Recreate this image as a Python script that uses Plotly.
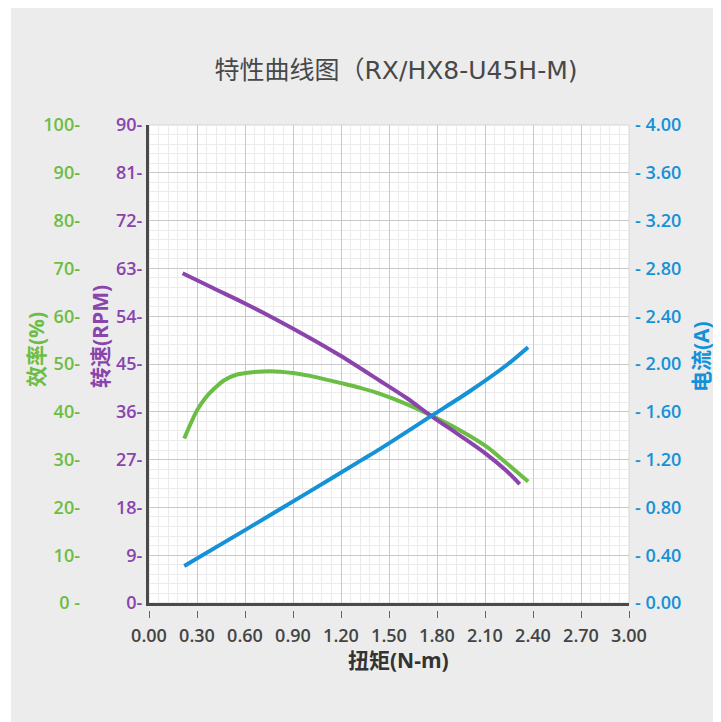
import plotly.graph_objects as go

# ---- data ----
eff_torque = [0.22, 0.26, 0.30, 0.35, 0.40, 0.47, 0.55, 0.65, 0.76, 0.90, 1.05, 1.20,
              1.32, 1.44, 1.61, 1.765, 1.94, 2.11, 2.23, 2.37]
eff_values = [34.4, 37.5, 40.3, 42.8, 44.6, 46.6, 47.8, 48.3, 48.5, 48.1, 47.2, 46.0,
              45.0, 43.8, 41.6, 39.2, 36.2, 32.7, 29.4, 25.4]

rpm_torque = [0.21, 0.40, 0.60, 0.80, 1.00, 1.20, 1.44, 1.61, 1.765, 1.94, 2.11, 2.23, 2.317]
rpm_values = [62.1, 59.3, 56.4, 53.3, 50.0, 46.5, 41.9, 38.6, 35.2, 31.6, 28.0, 25.0, 22.4]

cur_torque = [0.22, 0.60, 1.00, 1.333, 1.442, 1.765, 2.00, 2.24, 2.369]
cur_values = [0.31, 0.61, 0.93, 1.20, 1.288, 1.566, 1.768, 1.996, 2.141]

x_ticks = [0.00, 0.30, 0.60, 0.90, 1.20, 1.50, 1.80, 2.10, 2.40, 2.70, 3.00]
eff_ticks = [0, 10, 20, 30, 40, 50, 60, 70, 80, 90, 100]
rpm_ticks = [0, 9, 18, 27, 36, 45, 54, 63, 72, 81, 90]
cur_ticks = [0.00, 0.40, 0.80, 1.20, 1.60, 2.00, 2.40, 2.80, 3.20, 3.60, 4.00]

chart_title = "特性曲线图（RX/HX8-U45H-M)"
x_title = "扭矩(N-m)"
eff_title = "效率(%)"
rpm_title = "转速(RPM)"
cur_title = "电流(A)"

GREEN = "#6cbd45"
PURPLE = "#8a44ac"
BLUE = "#1591d8"
CJK = "Noto Sans CJK SC"
LAB = "Open Sans, Noto Sans CJK SC"

W, H = 721, 722
ML, MR, MT, MB = 10, 100, 117, 60
PW = W - ML - MR
PH = H - MT - MB
PLOT_L = 141
PLOT_B = 595
x0 = (PLOT_L - ML) / PW
y0 = (H - MB - PLOT_B) / PH


def px(xp):
    return (xp - ML) / PW


def py(yp):
    return (H - MB - yp) / PH


fig = go.Figure()
fig.add_trace(go.Scatter(x=eff_torque, y=eff_values, mode="lines", yaxis="y",
                         line=dict(color=GREEN, width=4, shape="spline", smoothing=0.8),
                         showlegend=False))
fig.add_trace(go.Scatter(x=rpm_torque, y=rpm_values, mode="lines", yaxis="y2",
                         line=dict(color=PURPLE, width=4, shape="spline", smoothing=0.8),
                         showlegend=False))
fig.add_trace(go.Scatter(x=cur_torque, y=cur_values, mode="lines", yaxis="y3",
                         line=dict(color=BLUE, width=4, shape="spline", smoothing=0.8),
                         showlegend=False))
# empty trace so that the detached tick axis is drawn
fig.add_trace(go.Scatter(x=[None], y=[None], xaxis="x2", yaxis="y2", mode="lines",
                         showlegend=False, hoverinfo="skip"))

TS = 18
TT = 21


def tf(color):
    return dict(family=LAB, size=TS, color=color, weight=600)


fig.update_layout(
    width=W, height=H,
    margin=dict(l=ML, r=MR, t=MT, b=MB, autoexpand=False),
    paper_bgcolor="#ececec",
    plot_bgcolor="#ffffff",
    font=dict(family=CJK),
    title=dict(text=chart_title, x=px(388), xref="paper",
               xanchor="center", y=1 - 62 / H, yanchor="middle",
               font=dict(family="DejaVu Sans, Noto Sans CJK SC", size=25, color="#484848")),
    xaxis=dict(domain=[x0, 1], range=[0, 3], tickvals=x_ticks, showticklabels=False,
               showgrid=True, gridcolor="#c9c9c9", gridwidth=1,
               minor=dict(dtick=0.06, showgrid=True, gridcolor="#ebebeb", gridwidth=1),
               showline=True, linecolor="#4a4a4a", linewidth=3, zeroline=False,
               ticks="", automargin=False),
    xaxis2=dict(overlaying="x", anchor="free", position=py(602),
                domain=[x0, 1], range=[0, 3], tickvals=x_ticks,
                ticktext=[f"{v:.2f}" for v in x_ticks],
                ticks="outside", ticklen=7, tickcolor="#666", tickwidth=1,
                ticklabelstandoff=2,
                showgrid=False, showline=False, zeroline=False, automargin=False,
                tickfont=tf("#444")),
    yaxis=dict(domain=[y0, 1], range=[0, 100], tickvals=eff_ticks,
               ticktext=[f"{v}-" if v else "0 -" for v in eff_ticks],
               anchor="free", position=px(72), side="left", automargin=False,
               showgrid=False, zeroline=False, showline=False, ticks="",
               tickfont=tf(GREEN)),
    yaxis2=dict(domain=[y0, 1], range=[0, 90], tickvals=rpm_ticks,
                ticktext=[f"{v}-" for v in rpm_ticks],
                overlaying="y", anchor="x", side="left", automargin=False,
                showgrid=True, gridcolor="#c9c9c9", gridwidth=1,
                minor=dict(dtick=1.8, showgrid=True, gridcolor="#ebebeb", gridwidth=1),
                showline=True, linecolor="#4a4a4a", linewidth=3, zeroline=False, ticks="",
                tickfont=tf(PURPLE)),
    yaxis3=dict(domain=[y0, 1], range=[0, 4], tickvals=cur_ticks,
                ticktext=[f"- {v:.2f}" for v in cur_ticks],
                overlaying="y", anchor="x", side="right", ticklabelstandoff=5,
                automargin=False,
                showgrid=False, zeroline=False, showline=False, ticks="",
                tickfont=tf(BLUE)),
    annotations=[
        dict(text=f"<b>{x_title}</b>", xref="paper", yref="paper", x=px(390), y=py(652),
             showarrow=False, xanchor="center", yanchor="middle",
             font=dict(family=LAB, size=TT, color="#333")),
        dict(text=f"<b>{eff_title}</b>", xref="paper", yref="paper", x=px(28), y=py(342),
             showarrow=False, xanchor="center", yanchor="middle", textangle=-90,
             font=dict(family=LAB, size=TT, color=GREEN)),
        dict(text=f"<b>{rpm_title}</b>", xref="paper", yref="paper", x=px(92), y=py(329),
             showarrow=False, xanchor="center", yanchor="middle", textangle=-90,
             font=dict(family=LAB, size=TT, color=PURPLE)),
        dict(text=f"<b>{cur_title}</b>", xref="paper", yref="paper", x=px(693), y=py(349),
             showarrow=False, xanchor="center", yanchor="middle", textangle=-90,
             font=dict(family=LAB, size=TT, color=BLUE)),
    ],
    shapes=[
        # light top/right border of plot area
        dict(type="rect", xref="paper", yref="paper", x0=x0, x1=1, y0=y0, y1=1,
             line=dict(color="#d6d6d6", width=1), layer="below"),
        # white strip at the left edge of the page
        dict(type="rect", xref="paper", yref="paper",
             x0=px(0), x1=px(3), y0=py(H), y1=py(0),
             line=dict(width=0), fillcolor="#ffffff", layer="below"),
    ],
)

fig.write_html("out.html")
